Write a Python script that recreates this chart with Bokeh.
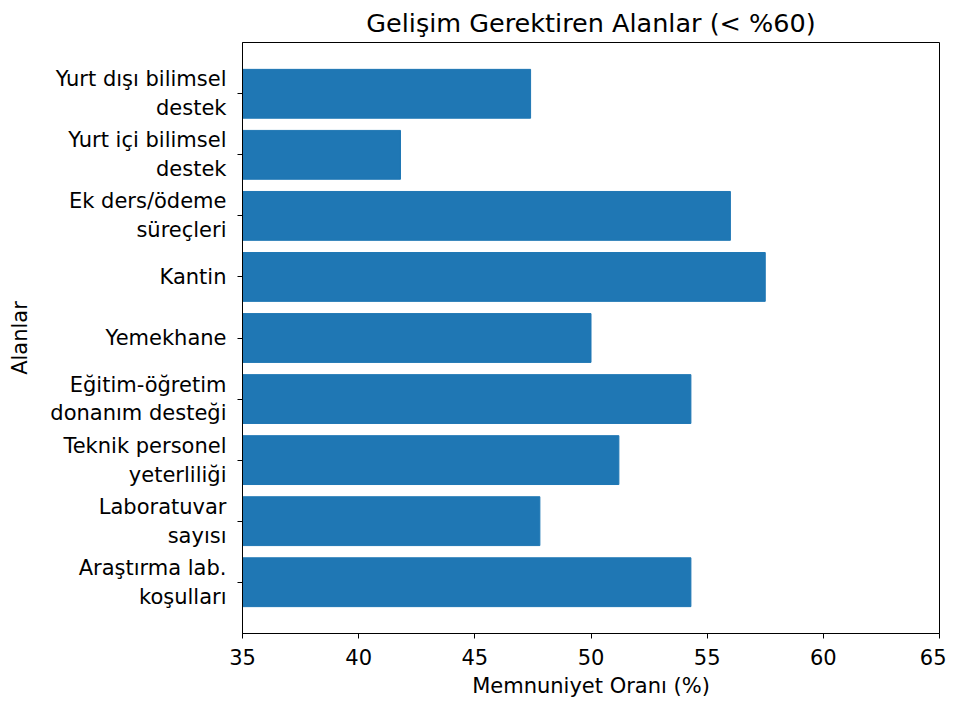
from bokeh.plotting import figure
from bokeh.models import Range1d, FixedTicker, ColumnDataSource
from bokeh.embed import file_html
from bokeh.resources import INLINE

categories = ["Araştırma lab.\nkoşulları", "Laboratuvar\nsayısı", "Teknik personel\nyeterliliği",
              "Eğitim-öğretim\ndonanım desteği", "Yemekhane", "Kantin",
              "Ek ders/ödeme\nsüreçleri", "Yurt içi bilimsel\ndestek", "Yurt dışı bilimsel\ndestek"]
values = [54.3, 47.8, 51.2, 54.3, 50.0, 57.5, 56.0, 41.8, 47.4]
x_ticks = [35, 40, 45, 50, 55, 60, 65]

FONT = "DejaVu Sans"
ypos = list(range(len(categories)))
src = ColumnDataSource(dict(y=ypos, v=values))

p = figure(width=946, height=700, output_backend="svg", toolbar_location=None,
           x_range=Range1d(35, 65), y_range=Range1d(-0.84, len(categories) - 1 + 0.84),
           min_border_left=242, min_border_right=7, min_border_top=42, min_border_bottom=64)

p.hbar(y="y", right="v", left=0, height=0.8, source=src, fill_color="#1f77b4", line_color="#1f77b4")

p.title.text = "Gelişim Gerektiren Alanlar (< %60)"
p.title.align = "center"
p.title.text_font = FONT
p.title.text_font_size = "25.5px"
p.title.text_font_style = "normal"
p.title.text_color = "black"

p.xgrid.visible = False
p.ygrid.visible = False
p.outline_line_color = "black"
p.outline_line_width = 1
p.outline_line_alpha = 1

p.xaxis.ticker = FixedTicker(ticks=x_ticks)
p.yaxis.ticker = FixedTicker(ticks=ypos)
p.yaxis.major_label_overrides = {i: c for i, c in zip(ypos, categories)}

for ax in (p.xaxis, p.yaxis):
    ax.axis_line_color = "black"
    ax.major_tick_line_color = "black"
    ax.major_tick_out = 5
    ax.major_tick_in = 0
    ax.minor_tick_line_color = None
    ax.major_label_text_font = FONT
    ax.major_label_text_font_size = "21px"
    ax.major_label_text_color = "black"
    ax.axis_label_text_font = FONT
    ax.axis_label_text_font_size = "21px"
    ax.axis_label_text_font_style = "normal"
    ax.axis_label_text_color = "black"

p.xaxis.axis_label = "Memnuniyet Oranı (%)"
p.yaxis.axis_label = "Alanlar"
p.xaxis.major_label_standoff = 10
p.yaxis.major_label_standoff = 11
p.xaxis.axis_label_standoff = 6
p.yaxis.axis_label_standoff = 15

open("out.html", "w").write(file_html(p, INLINE))
